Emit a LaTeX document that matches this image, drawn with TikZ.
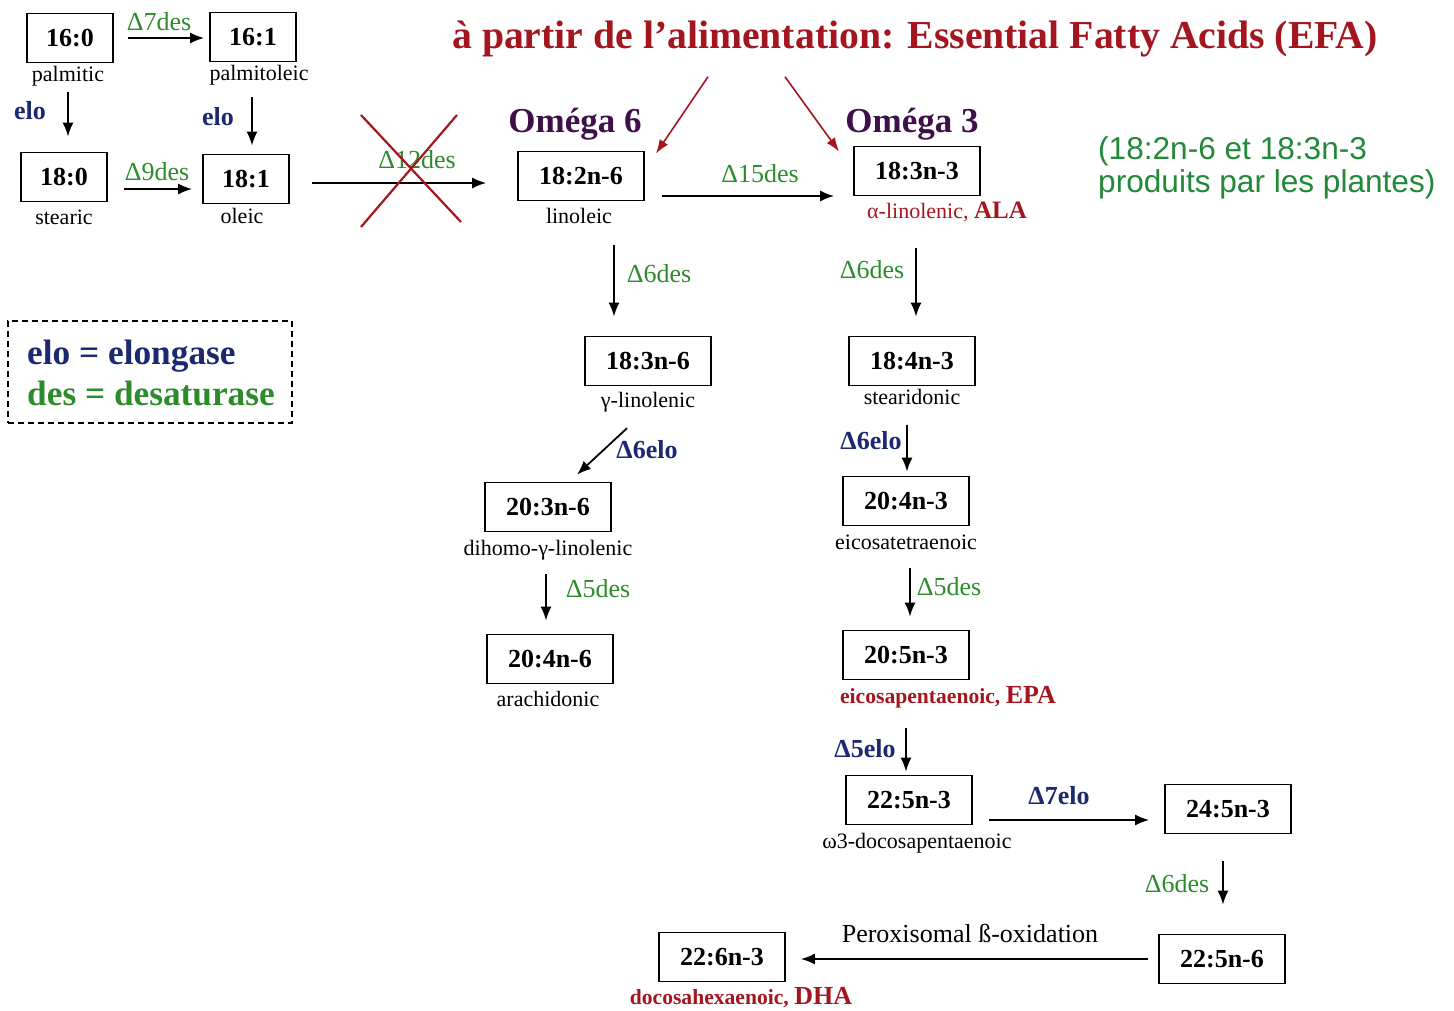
\documentclass[tikz,border=0pt]{standalone}
\usepackage{fontspec}
\setmainfont{Liberation Serif}
\newfontfamily\arialf{Liberation Sans}
\usetikzlibrary{arrows.meta,calc}
\definecolor{dred}{HTML}{A3161F}
\definecolor{dpurp}{HTML}{3E0F48}
\definecolor{navy}{HTML}{1C2870}
\definecolor{dgreen}{HTML}{2C8C2C}
\definecolor{ngreen}{HTML}{23883A}
\newcommand{\fs}[1]{\fontsize{#1}{#1}\selectfont}
\tikzset{
  fa/.style={draw, line width=1.8pt, minimum height=49pt, inner sep=0pt, font=\fs{26}\bfseries},
  fas/.style={fa, minimum width=86pt},
  fal/.style={fa, minimum width=126pt},
  sub/.style={inner sep=0pt, font=\fs{22}},
  lg/.style={inner sep=0pt, text=dgreen, font=\fs{26}},
  lb/.style={inner sep=0pt, text=navy, font=\fs{26}\bfseries},
  arr/.style={line width=1.8pt, -{Latex[length=14pt,width=11pt]}},
  rarr/.style={line width=1.6pt, draw=dred, -{Latex[length=14pt,width=10pt]}},
}
\begin{document}
\begin{tikzpicture}[x=1pt,y=-1pt]
\useasboundingbox (0,0) rectangle (1454,1010);
% title
\node[anchor=base, inner sep=0pt, text=dred, font=\fs{39.7}\bfseries] (title) at (915,48) {à partir de l’alimentation: Essential Fatty Acids (EFA)};
\node[inner sep=0pt, text=dpurp, font=\fs{35}\bfseries] (om6) at (575,124) {Oméga 6};
\node[inner sep=0pt, text=dpurp, font=\fs{35}\bfseries] (om3) at (912,124) {Oméga 3};
\node[anchor=west, inner sep=0pt, align=left, text=ngreen, font=\arialf\fontsize{31.6}{33}\selectfont] (note) at (1098,168) {(18:2n-6 et 18:3n-3\\produits par les plantes)};
% legend
\node[draw, dashed, dash pattern=on 6pt off 4pt, line width=1.6pt, minimum width=284pt, minimum height=102pt, inner sep=0pt] (legend) at (150,372) {};
\node[anchor=base west, inner sep=0pt, text=navy, font=\fs{35.3}\bfseries] (leg1) at (27,364) {elo = elongase};
\node[anchor=base west, inner sep=0pt, text=dgreen, font=\fs{35.3}\bfseries] (leg2) at (27,405) {des = desaturase};
% boxes
\node[fas] (b160) at (70,38) {16:0};
\node[fas] (b161) at (253,37) {16:1};
\node[fas] (b180) at (64,177) {18:0};
\node[fas] (b181) at (246,179) {18:1};
\node[fal] (b182) at (581,176) {18:2n-6};
\node[fal] (b183) at (917,171) {18:3n-3};
\node[fal] (b186) at (648,361) {18:3n-6};
\node[fal] (b184) at (912,361) {18:4n-3};
\node[fal] (b203) at (548,507) {20:3n-6};
\node[fal] (b204) at (906,501) {20:4n-3};
\node[fal] (b206) at (550,659) {20:4n-6};
\node[fal] (b205) at (906,655) {20:5n-3};
\node[fal] (b225) at (909,800) {22:5n-3};
\node[fal] (b245) at (1228,809) {24:5n-3};
\node[fal] (b2256) at (1222,959) {22:5n-6};
\node[fal] (b226) at (722,957) {22:6n-3};
% sublabels
\node[sub] (palm) at (68,76) {palmitic};
\node[sub] (palmo) at (259,75) {palmitoleic};
\node[sub] (stea) at (64,217) {stearic};
\node[sub] (olei) at (242,216) {oleic};
\node[sub] (lino) at (579,216) {linoleic};
\node[sub, text=dred] (ala) at (947,212) {α-linolenic, {\fs{25}\bfseries ALA}};
\node[sub] (glin) at (648,402) {γ-linolenic};
\node[sub] (stid) at (912,397) {stearidonic};
\node[sub] (dglin) at (548,550) {dihomo-γ-linolenic};
\node[sub] (eite) at (906,542) {eicosatetraenoic};
\node[sub] (arac) at (548,699) {arachidonic};
\node[sub, text=dred] (epa) at (948,697) {{\fs{21.6}\bfseries eicosapentaenoic,} {\fs{26}\bfseries EPA}};
\node[sub] (w3d) at (917,843) {ω3-docosapentaenoic};
\node[sub, text=dred] (dha) at (741,998) {{\fs{21.6}\bfseries docosahexaenoic,} {\fs{26}\bfseries DHA}};
% enzyme labels
\node[lg] (l7des) at (159,22) {Δ7des};
\node[lb] (lelo1) at (30,111) {elo};
\node[lb] (lelo2) at (218,117) {elo};
\node[lg] (l9des) at (157,172) {Δ9des};
\node[lg] (l12des) at (417,160) {Δ12des};
\node[lg] (l15des) at (760,174) {Δ15des};
\node[lg] (l6desa) at (659,274) {Δ6des};
\node[lg] (l6desb) at (872,270) {Δ6des};
\node[lb] (l6eloa) at (647,450) {Δ6elo};
\node[lb] (l6elob) at (871,441) {Δ6elo};
\node[lg] (l5desa) at (598,589) {Δ5des};
\node[lg] (l5desb) at (949,587) {Δ5des};
\node[lb] (l5elo) at (865,749) {Δ5elo};
\node[lb] (l7elo) at (1059,796) {Δ7elo};
\node[lg] (l6desc) at (1177,884) {Δ6des};
\node[inner sep=0pt, font=\fs{26}] (lperox) at (970,933) {Peroxisomal ß-oxidation};
% arrows
\draw[arr, shorten <=14pt, shorten >=5pt] (b160.east) -- (b160.east -| b161.west);
\draw[arr, shorten <=6pt, shorten >=15pt] (palm.south) -- (palm.south |- b180.north);
\draw[arr, shorten <=12pt, shorten >=8pt] ([xshift=6pt]b181.north |- palmo.south) -- ([xshift=6pt]b181.north);
\draw[arr, shorten <=16pt, shorten >=10pt] ([yshift=-12pt]b180.east) -- ([yshift=-12pt]b180.east -| b181.west);
\draw[arr, shorten <=22pt, shorten >=31pt] ([yshift=-4pt]b181.east) -- ([yshift=-4pt]b181.east -| b182.west);
\draw[arr, shorten <=17pt, shorten >=19pt] ([yshift=-20pt]b182.east) -- ([yshift=-20pt]b182.east -| b183.west);
\draw[arr, shorten <=21pt, shorten >=19pt] ([xshift=-34pt]b186.north |- lino.south) -- ([xshift=-34pt]b186.north);
\draw[arr, shorten <=52pt, shorten >=19pt] ([xshift=-1pt]b183.south) -- ([xshift=-1pt]b183.south |- b184.north);
\draw[arr] ($(glin.south)+(-21,16)$) -- ($(b203.north)+(29,-7)$);
\draw[arr, shorten <=20pt, shorten >=4pt] ([xshift=1pt]b204.north |- stid.south) -- ([xshift=1pt]b204.north);
\draw[arr, shorten <=14pt, shorten >=13pt] ([xshift=-4pt]b206.north |- dglin.south) -- ([xshift=-4pt]b206.north);
\draw[arr, shorten <=18pt, shorten >=13pt] ([xshift=4pt]b205.north |- eite.south) -- ([xshift=4pt]b205.north);
\draw[arr, shorten <=20pt, shorten >=3pt] ([xshift=-3pt]b225.north |- epa.south) -- ([xshift=-3pt]b225.north);
\draw[arr, shorten <=16pt, shorten >=15pt] ([yshift=-20pt]b225.east) -- ([yshift=-20pt]b225.east -| b245.west);
\draw[arr, shorten <=27pt, shorten >=29pt] ([xshift=-5pt]b245.south) -- ([xshift=-5pt]b245.south |- b2256.north);
\draw[arr, shorten <=10pt, shorten >=15pt] (b2256.west) -- (b2256.west -| b226.east);
% red arrows from title
\draw[rarr] ($(title.south)+(-207,20)$) -- ($(b182.north east)+(11,3)$);
\draw[rarr] ($(title.south)+(-130,20)$) -- ($(b183.north west)+(-14,6)$);
% red cross
\draw[dred, line width=2.2pt] (361,115) -- (461,222);
\draw[dred, line width=2.2pt] (361,227) -- (457,115);
\end{tikzpicture}
\end{document}
